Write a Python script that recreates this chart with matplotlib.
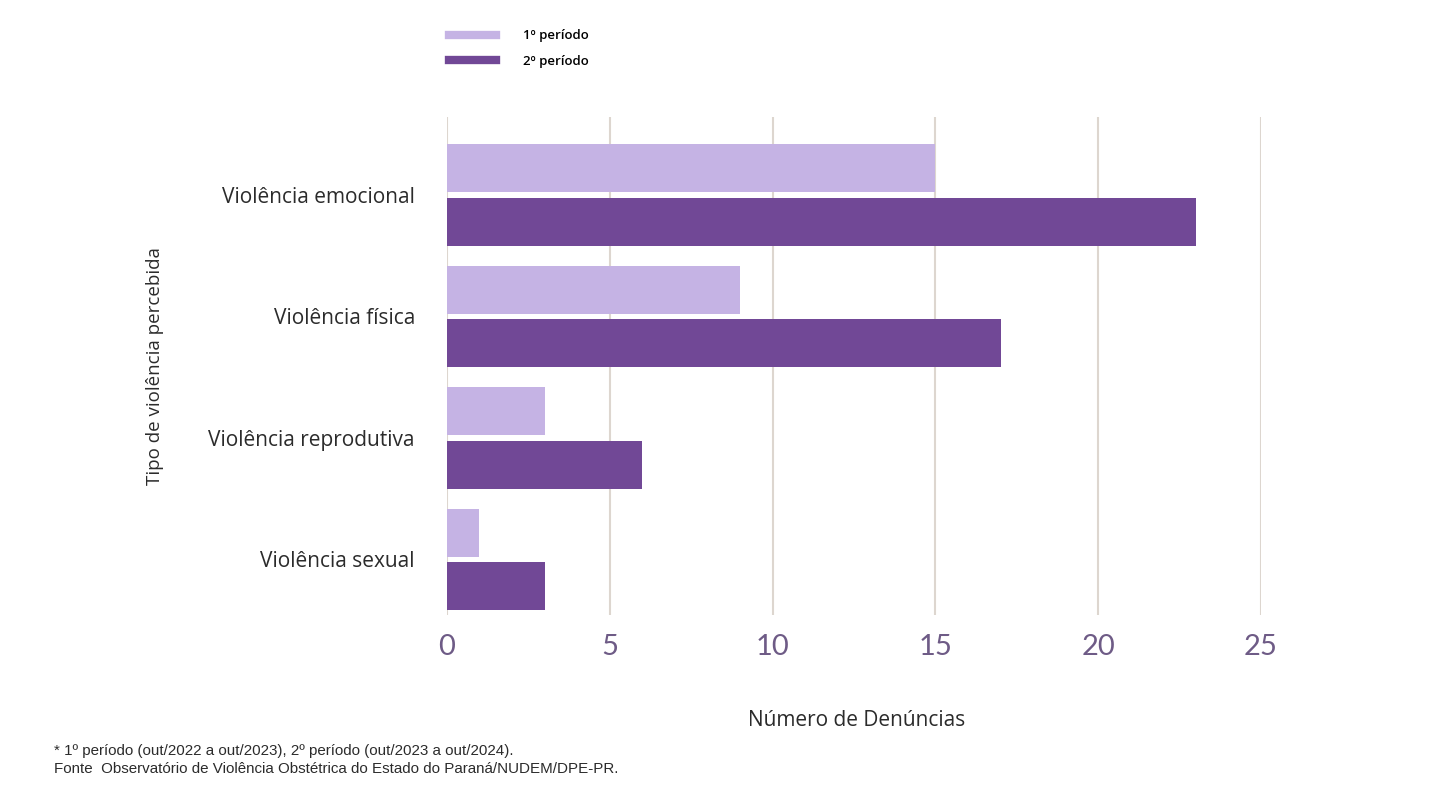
import numpy as np
import matplotlib.pyplot as plt
from matplotlib.lines import Line2D

plt.rcParams['font.family'] = ['Open Sans', 'DejaVu Sans']

categorias = ['Violência emocional', 'Violência física', 'Violência reprodutiva', 'Violência sexual']
periodo1 = [15, 9, 3, 1]
periodo2 = [23, 17, 6, 3]
series = ['1º período', '2º período']
ticks_x = [0, 5, 10, 15, 20, 25]

cor_clara = '#c5b3e4'
cor_escura = '#714896'

fig = plt.figure(figsize=(14.32, 8), dpi=100)
ax = fig.add_axes([0.3121, 0.23125, 0.5685, 0.6225])

y = np.arange(len(categorias))
h = 0.395
ax.barh(y - 0.22, periodo1, height=h, color=cor_clara, label=series[0], zorder=3)
ax.barh(y + 0.22, periodo2, height=h, color=cor_escura, label=series[1], zorder=3)

ax.set_xlim(0, 25)
ax.set_ylim(3.457, -0.64)
ax.set_xticks(ticks_x)
ax.set_xticklabels([str(t) for t in ticks_x], fontsize=21, color='#6e5b86', family='Lato')
ax.set_yticks(y)
ax.set_yticklabels(categorias, fontsize=15, color='#2b2b2b', fontweight='medium')
ax.tick_params(axis='both', length=0)
ax.tick_params(axis='x', pad=14)
ax.tick_params(axis='y', pad=23)
ax.grid(axis='x', color='#ddd6cf', linewidth=1.5, zorder=0)
for s in ax.spines.values():
    s.set_visible(False)

fig.text(0.1085, 0.5425, 'Tipo de violência percebida', rotation=90, ha='center', va='center',
         fontsize=13.5, color='#2b2b2b', fontweight='medium')
fig.text(0.598, 0.1, 'Número de Denúncias', ha='center', va='center', fontsize=15,
         color='#2b2b2b')

hl = [Line2D([], [], color=cor_clara, linewidth=6), Line2D([], [], color=cor_escura, linewidth=6)]
fig.legend(hl, series, loc='upper left', bbox_to_anchor=(0.305, 0.978), frameon=False,
           prop={'size': 9.5, 'weight': 'semibold'}, handlelength=3.6, handletextpad=2.0,
           labelspacing=0.95)

fig.text(0.038, 0.0615, '* 1º período (out/2022 a out/2023), 2º período (out/2023 a out/2024).',
         fontsize=10.9, color='#2b2b2b', va='center', family='Liberation Sans')
fig.text(0.038, 0.039, 'Fonte  Observatório de Violência Obstétrica do Estado do Paraná/NUDEM/DPE-PR.',
         fontsize=10.9, color='#2b2b2b', va='center', family='Liberation Sans')

fig.savefig('out.png', dpi=100, facecolor='white')
